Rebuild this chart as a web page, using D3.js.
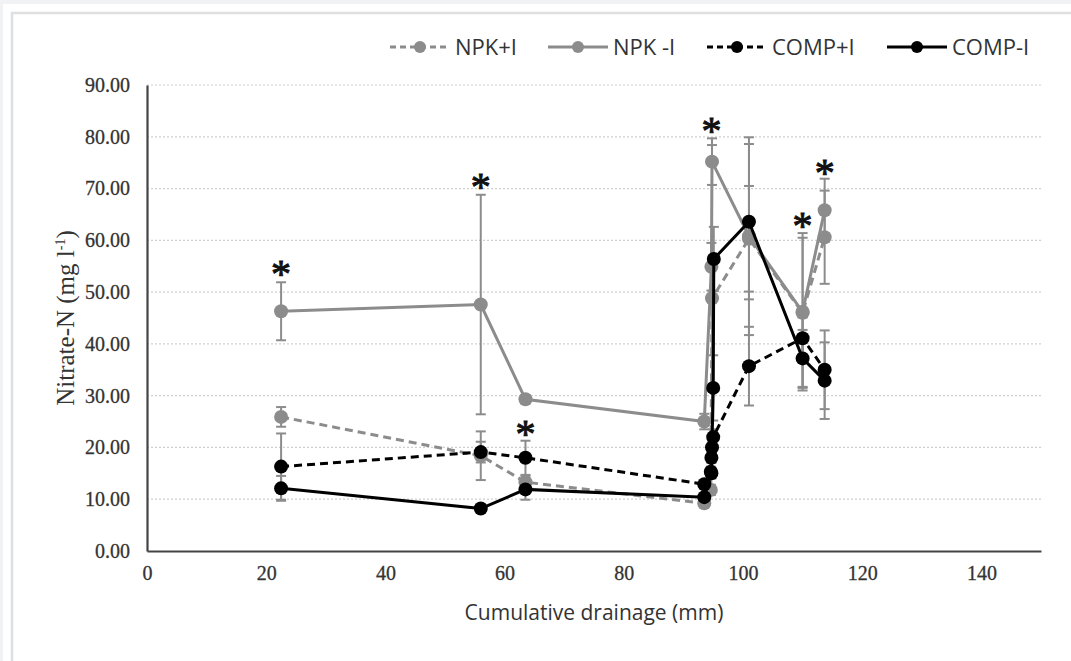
<!DOCTYPE html>
<html>
<head>
<meta charset="utf-8">
<script src="https://cdn.jsdelivr.net/npm/d3@7"></script>
<style>
  html, body { margin: 0; padding: 0; background: #f1f2f4; }
  #chart { position: absolute; left: 3px; top: 4px; }
</style>
</head>
<body>
<div id="chart"></div>
<script>
// drainage (mm) / nitrate-N (mg l-1) / error
const xNPKplus = [22.5, 56, 63.5, 93.5, 94.6, 94.8, 101, 110, 113.7];
const yNPKplus = [25.9, 18.4, 13.3, 9.2, 11.8, 48.8, 60.3, 46.0, 60.6];
const eNPKplus = [1.9, 4.7, 1.2, 0.6, 1.0, 29.6, 10.2, 14.5, 9.0];

const xNPKminus = [22.5, 56, 63.5, 93.5, 94.7, 94.8, 101, 110, 113.7];
const yNPKminus = [46.3, 47.6, 29.3, 25.0, 54.9, 75.2, 60.8, 46.2, 65.8];
const eNPKminus = [5.6, 21.2, 0.8, 1.5, 4.6, 4.5, 19.1, 15.2, 6.1];

const xCOMPplus = [22.5, 56, 63.5, 93.5, 94.6, 94.7, 94.8, 95, 101, 110, 113.7];
const yCOMPplus = [16.3, 19.1, 18.0, 12.9, 15.3, 18.0, 20.0, 22.0, 35.7, 41.1, 35.0];
const eCOMPplus = [6.4, 2.0, 3.3, 0.5, 1.0, 1.0, 1.0, 1.5, 7.6, 4.0, 7.6];

const xCOMPminus = [22.5, 56, 63.5, 93.5, 94.7, 95, 95.1, 101, 110, 113.7];
const yCOMPminus = [12.1, 8.2, 11.9, 10.4, 15.0, 31.5, 56.4, 63.6, 37.2, 32.9];
const eCOMPminus = [2.4, 0.8, 2.0, 0.5, 1.0, 6.3, 6.2, 15.0, 5.5, 7.4];

// significance marks
const starX = [22.5, 56, 63.5, 94.7, 110, 113.7];
const starY = [54.6, 71.5, 23.7, 82.2, 63.9, 74.2];

const seriesNames = ["NPK+I", "NPK -I", "COMP+I", "COMP-I"];
const xTicks = [0, 20, 40, 60, 80, 100, 120, 140];
const yTicks = [0, 10, 20, 30, 40, 50, 60, 70, 80, 90];

const gray = "#8c8c8c";
const series = [
    {name: seriesNames[0], xs: xNPKplus, ys: yNPKplus, es: eNPKplus, color: gray, dash: "8,5"},
    {name: seriesNames[1], xs: xNPKminus, ys: yNPKminus, es: eNPKminus, color: gray, dash: null},
    {name: seriesNames[2], xs: xCOMPplus, ys: yCOMPplus, es: eCOMPplus, color: "#000", dash: "8,5"},
    {name: seriesNames[3], xs: xCOMPminus, ys: yCOMPminus, es: eCOMPminus, color: "#000", dash: null}
];

let width = 1068, height = 657;
let svg = d3.select("#chart").append("svg")
    .attr("width", width)
    .attr("height", height);

svg.append("rect").attr("width", width).attr("height", height).attr("fill", "#fff");
// panel border
svg.append("rect")
    .attr("x", 9).attr("y", 9)
    .attr("width", width + 20).attr("height", height + 20)
    .attr("fill", "none")
    .attr("stroke", "#dedfe1")
    .attr("stroke-width", 2.5);

var x = d3.scaleLinear().domain([0, 150]).range([144, 1038]);
var y = d3.scaleLinear().domain([0, 90]).range([547, 81]);

// gridlines
svg.append("g").selectAll("line")
    .data(yTicks.filter(d => d > 0)).enter()
    .append("line")
    .attr("x1", x(0)).attr("x2", x(150))
    .attr("y1", d => y(d)).attr("y2", d => y(d))
    .attr("stroke", "#cfcfcf")
    .attr("stroke-width", 1.2)
    .attr("stroke-dasharray", "2,2");

// axes
let yAxis = svg.append("g")
    .attr("transform", "translate(" + x(0) + ",0)")
    .call(d3.axisLeft(y).tickValues(yTicks).tickFormat(d3.format(".2f")).tickSize(0).tickPadding(17));
let xAxis = svg.append("g")
    .attr("transform", "translate(0," + y(0) + ")")
    .call(d3.axisBottom(x).tickValues(xTicks).tickSize(0).tickPadding(15));
[xAxis, yAxis].forEach(a => {
    a.select(".domain").attr("stroke", "#444").attr("stroke-width", 2.2);
    a.selectAll("text")
        .style("font-family", "'Liberation Serif', 'DejaVu Serif', serif")
        .style("font-size", "20px")
        .attr("fill", "#333")
        .attr("stroke", "#333")
        .attr("stroke-width", 0.3);
});

// axis titles
svg.append("text")
    .attr("x", 591).attr("y", 616)
    .attr("text-anchor", "middle")
    .style("font-family", "'Open Sans', sans-serif")
    .style("font-size", "21px")
    .attr("fill", "#333")
    .text("Cumulative drainage (mm)");

let yTitle = svg.append("text")
    .attr("transform", "translate(71,314) rotate(-90)")
    .attr("text-anchor", "middle")
    .style("font-family", "'Liberation Serif', serif")
    .style("font-size", "25px")
    .attr("fill", "#333");
yTitle.append("tspan").text("Nitrate-N (mg l");
yTitle.append("tspan").attr("dy", -9).style("font-size", "14px").text("-1");
yTitle.append("tspan").attr("dy", 9).text(")");

// error bars (all grey)
let errG = svg.append("g");
series.forEach(s => {
    let pts = s.xs.map((v, i) => ({x: v, y: s.ys[i], e: s.es[i]}));
    let eb = errG.append("g").selectAll("g").data(pts).enter().append("g")
        .attr("stroke", gray).attr("stroke-width", 2);
    eb.append("line")
        .attr("x1", d => x(d.x)).attr("x2", d => x(d.x))
        .attr("y1", d => y(d.y - d.e)).attr("y2", d => y(d.y + d.e));
    eb.append("line")
        .attr("x1", d => x(d.x) - 5).attr("x2", d => x(d.x) + 5)
        .attr("y1", d => y(d.y + d.e)).attr("y2", d => y(d.y + d.e));
    eb.append("line")
        .attr("x1", d => x(d.x) - 5).attr("x2", d => x(d.x) + 5)
        .attr("y1", d => y(d.y - d.e)).attr("y2", d => y(d.y - d.e));
});

// lines and markers
var line = d3.line().x(d => x(d.x)).y(d => y(d.y));
series.forEach(s => {
    let pts = s.xs.map((v, i) => ({x: v, y: s.ys[i]}));
    svg.append("path")
        .datum(pts)
        .attr("d", line)
        .attr("fill", "none")
        .attr("stroke", s.color)
        .attr("stroke-width", 3)
        .attr("stroke-dasharray", s.dash);
    svg.append("g").selectAll("circle")
        .data(pts).enter()
        .append("circle")
        .attr("cx", d => x(d.x))
        .attr("cy", d => y(d.y))
        .attr("r", 7)
        .attr("fill", s.color);
});

// asterisks
svg.append("g").selectAll("text")
    .data(starX.map((v, i) => [v, starY[i]])).enter()
    .append("text")
    .attr("x", d => x(d[0]))
    .attr("y", d => y(d[1]) + 19)
    .attr("text-anchor", "middle")
    .style("font-family", "'Liberation Serif', serif")
    .style("font-size", "40px")
    .attr("fill", "#111")
    .attr("stroke", "#111")
    .attr("stroke-width", 1)
    .text("*");

// legend
const legendX = [387, 545, 704, 884];
let leg = svg.append("g").selectAll("g")
    .data(series).enter().append("g")
    .attr("transform", (d, i) => "translate(" + legendX[i] + ",43)");
leg.append("line")
    .attr("x1", 0).attr("x2", 60)
    .attr("stroke", d => d.color)
    .attr("stroke-width", 3)
    .attr("stroke-dasharray", d => d.dash ? "6,4" : null);
leg.append("circle")
    .attr("cx", 30).attr("r", 6)
    .attr("fill", d => d.color);
leg.append("text")
    .attr("x", 65).attr("y", 8)
    .style("font-family", "'Open Sans', sans-serif")
    .style("font-size", "22px")
    .attr("fill", "#333")
    .text(d => d.name);
</script>
</body>
</html>
